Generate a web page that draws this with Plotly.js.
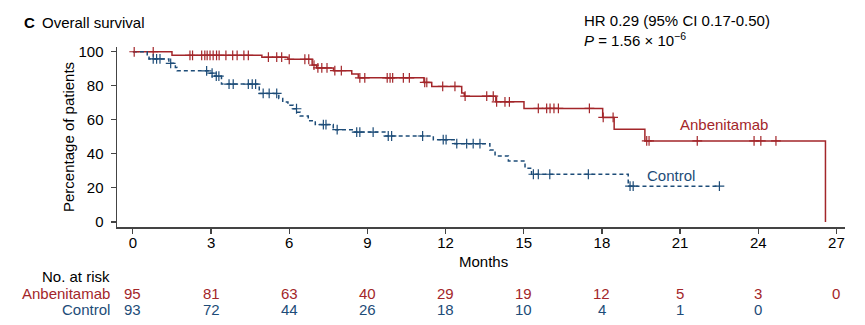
<!DOCTYPE html>
<html>
<head>
<meta charset="utf-8">
<script src="https://cdn.plot.ly/plotly-3.0.1.min.js"></script>
<style>html,body{margin:0;padding:0;background:#fff;}#chart{width:865px;height:325px;}</style>
</head>
<body>
<div id="chart"></div>
<script>
// ---- Data ----
// Anbenitamab KM step function: event times (months) and survival (%)
var redT = [0, 1.5, 4.95, 5.95, 6.88, 7.05, 7.7, 8.4, 8.65, 11.17, 11.47, 12.62, 12.72, 13.93, 15.01, 18.03, 18.47, 19.65, 26.58];
var redS = [100, 97.9, 96.8, 95.6, 92.2, 90.5, 88.9, 87.0, 84.7, 82.0, 79.6, 75.8, 73.9, 70.6, 66.7, 61.4, 54.5, 47.6, 0];
var redCens = [0.05, 0.78, 2.19, 2.29, 2.64, 2.76, 2.85, 2.96, 3.08, 3.21, 3.31, 3.57, 3.83, 4.0, 4.26, 4.43,
  5.2, 5.52, 5.71, 6.0, 6.6, 6.75, 6.95, 7.1, 7.25, 7.45, 7.75, 8.0, 8.71, 8.9, 9.76, 9.87, 9.97, 10.38, 10.61,
  11.2, 11.28, 11.89, 12.36, 12.75, 13.58, 13.83, 13.96, 14.28, 14.45, 15.56, 15.88, 16.01, 16.16, 16.33, 17.52,
  18.05, 18.43, 19.72, 19.81, 21.66, 23.84, 24.1, 24.68];

// Control KM step function
var blueT = [0, 0.55, 0.62, 1.38, 1.63, 1.7, 2.95, 3.15, 3.4, 4.85, 5.6, 5.75, 5.95, 6.15, 6.3, 6.42, 6.73, 7.0, 7.69, 8.46, 9.67, 11.53, 12.36, 13.7, 13.9, 14.41, 15.05, 15.3, 19.01];
var blueS = [100, 97.8, 95.8, 93.2, 90.8, 88.8, 87.4, 85.7, 81.0, 75.5, 72.5, 70.5, 68.5, 66.5, 64.5, 62.2, 59.5, 57.2, 54.2, 52.8, 50.5, 48.3, 46.0, 42.3, 38.8, 35.8, 31.5, 28.0, 21.0];
var blueCens = [0.78, 0.91, 1.04, 1.45, 2.83, 3.04, 3.2, 3.3, 3.69, 3.85, 4.43, 4.58, 4.71, 5.0, 5.23, 5.52, 6.28,
  7.31, 7.41, 7.84, 8.59, 8.71, 9.22, 9.8, 9.93, 11.12, 11.91, 12.02, 12.43, 12.81, 13.06, 13.32,
  15.37, 15.56, 16.0, 17.48, 19.08, 19.2, 22.51];

// Numbers at risk
var riskTimes = [0, 3, 6, 9, 12, 15, 18, 21, 24, 27];
var riskRed = [95, 81, 63, 40, 29, 19, 12, 5, 3, 0];
var riskBlue = [93, 72, 44, 26, 18, 10, 4, 1, 0];

var armNames = ["Anbenitamab", "Control"];
var xTicks = [0, 3, 6, 9, 12, 15, 18, 21, 24, 27];
var yTicks = [0, 20, 40, 60, 80, 100];

// ---- Styling ----
var RED = "#a3262a", BLUE = "#1d4c78", AX = "#444444";
var FONT = "Liberation Sans, Arial, sans-serif";

function levelAt(T, S, t) {
  var v = S[0];
  for (var i = 0; i < T.length; i++) { if (T[i] <= t) v = S[i]; }
  return v;
}

var blueXs = blueT.concat([Math.max.apply(null, blueCens)]);
var blueYs = blueS.concat([blueS[blueS.length - 1]]);

var traces = [
  {x: redT, y: redS, mode: "lines", line: {shape: "hv", color: RED, width: 1.5}, hoverinfo: "skip"},
  {x: blueXs, y: blueYs, mode: "lines", line: {shape: "hv", color: BLUE, width: 1.5, dash: "4px,3px"}, hoverinfo: "skip"},
  {x: redCens, y: redCens.map(function (t) { return levelAt(redT, redS, t); }), mode: "markers",
   marker: {symbol: "cross-thin", size: 7, line: {color: RED, width: 1.2}, color: RED}},
  {x: blueCens, y: blueCens.map(function (t) { return levelAt(blueT, blueS, t); }), mode: "markers",
   marker: {symbol: "cross-thin", size: 7, line: {color: BLUE, width: 1.2}, color: BLUE}}
];

var L = 117, R = 20, T = 47, B = 98, W = 865, H = 325;
var pw = W - L - R, ph = H - T - B;
function px(x) { return (x - L) / pw; }
function py(y) { return (H - B - y) / ph; }

var ann = [];
function txt(s, x, y, opt) {
  var a = {text: s, xref: "paper", yref: "paper", x: px(x), y: py(y), showarrow: false,
           xanchor: "left", yanchor: "middle", font: {family: FONT, size: 15, color: "#000"}};
  for (var k in opt) a[k] = opt[k];
  ann.push(a);
}
txt("<b>C</b>", 22, 22, {});
txt("Overall survival", 40, 22, {});
txt("HR 0.29 (95% CI 0.17-0.50)", 582, 20, {});
txt("<i>P</i> = 1.56 × 10<sup>−6</sup>", 582, 40, {});
txt("Percentage of patients", 68, 137, {xanchor: "center", textangle: -90});
txt("Months", 483, 261, {xanchor: "center"});
txt("No. at risk", 112, 276, {xanchor: "right"});
txt(armNames[0], 112, 293, {xanchor: "right", font: {family: FONT, size: 15, color: RED}});
txt(armNames[1], 112, 309, {xanchor: "right", font: {family: FONT, size: 15, color: BLUE}});

riskRed.forEach(function (v, i) {
  ann.push({text: String(v), xref: "x", yref: "paper", x: riskTimes[i], y: py(293), showarrow: false,
            xanchor: "center", yanchor: "middle", font: {family: FONT, size: 15, color: RED}});
});
riskBlue.forEach(function (v, i) {
  ann.push({text: String(v), xref: "x", yref: "paper", x: riskTimes[i], y: py(309), showarrow: false,
            xanchor: "center", yanchor: "middle", font: {family: FONT, size: 15, color: BLUE}});
});
// Curve labels
ann.push({text: armNames[0], xref: "x", yref: "y", x: 22.7, y: 57, showarrow: false,
          font: {family: FONT, size: 15, color: RED}});
ann.push({text: armNames[1], xref: "x", yref: "y", x: 20.65, y: 27.5, showarrow: false,
          font: {family: FONT, size: 15, color: BLUE}});

var layout = {
  width: W, height: H, margin: {l: L, r: R, t: T, b: B},
  paper_bgcolor: "#fff", plot_bgcolor: "#fff", showlegend: false,
  font: {family: FONT, size: 15, color: "#000"},
  xaxis: {range: [-0.61, 27.33], tickvals: xTicks, ticktext: xTicks.map(String), ticks: "outside", ticklen: 5,
          tickcolor: AX, tickwidth: 1.2, showline: true, linecolor: AX, linewidth: 1.5, showgrid: false, zeroline: false,
          ticklabelstandoff: -4,
          tickfont: {family: FONT, size: 15, color: "#000"}},
  yaxis: {range: [-3, 102.8], tickvals: yTicks, ticktext: yTicks.map(String), ticks: "outside", ticklen: 5,
          tickcolor: AX, tickwidth: 1.2, showline: true, linecolor: AX, linewidth: 1.5, showgrid: false, zeroline: false,
          ticklabelstandoff: 4,
          tickfont: {family: FONT, size: 15, color: "#000"}},
  annotations: ann
};
Plotly.newPlot("chart", traces, layout, {staticPlot: true, displayModeBar: false});
</script>
</body>
</html>
